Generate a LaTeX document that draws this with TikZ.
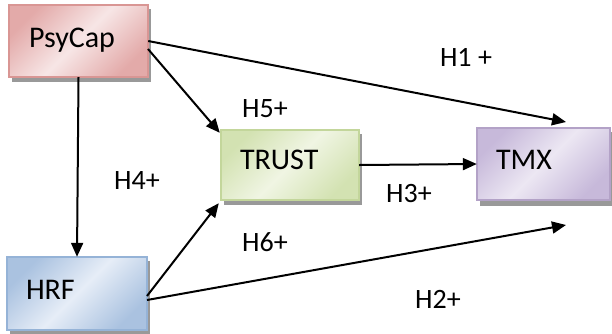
\documentclass[tikz,border=0pt]{standalone}
\usepackage{fontspec}
\setmainfont{Carlito}
\usetikzlibrary{arrows.meta,calc}
\definecolor{psyB}{HTML}{D99694}\definecolor{psyD}{HTML}{E3AAA9}\definecolor{psyL}{HTML}{F7E6E6}
\definecolor{trB}{HTML}{C3D69B}\definecolor{trD}{HTML}{D3E2B2}\definecolor{trL}{HTML}{F0F5E3}
\definecolor{tmB}{HTML}{B3A2C7}\definecolor{tmD}{HTML}{C7B9DA}\definecolor{tmL}{HTML}{ECE7F3}
\definecolor{hrB}{HTML}{95B3D7}\definecolor{hrD}{HTML}{AAC2E0}\definecolor{hrL}{HTML}{E6EDF7}
\definecolor{shd}{HTML}{999999}
\tikzset{
  box/.style={draw=#1B, line width=1.5pt, left color=#1D, right color=#1D, middle color=#1L,
    shading angle=45, inner sep=0pt, text=black},
  lbl/.style={font=\fontsize{28}{32}\selectfont, inner sep=0pt, anchor=center},
  btxt/.style={font=\fontsize{30}{34}\selectfont, inner sep=0pt, anchor=west},
  arr/.style={line width=2pt, -{Triangle[length=14pt,width=12pt]}}
}
\begin{document}
\begin{tikzpicture}[x=1pt,y=-1pt]
\useasboundingbox (0,0) rectangle (612,333);
% shadows
\fill[shd] (12,9) rectangle (151,82);
\fill[shd] (224,134) rectangle (362,205);
\fill[shd] (480,132) rectangle (615,206);
\fill[shd] (10,261) rectangle (150,335);
% boxes
\path[box=psy] (9,5) rectangle (148,77);
\path[box=tr] (221,130) rectangle (359,200);
\path[box=tm] (477,128) rectangle (610,200);
\path[box=hr] (7,257) rectangle (147,330);
\node[minimum width=139pt, minimum height=72pt, inner sep=0pt] (psy) at (78.5,41) {};
\node[minimum width=138pt, minimum height=70pt, inner sep=0pt] (trust) at (290,165) {};
\node[minimum width=133pt, minimum height=72pt, inner sep=0pt] (tmx) at (543.5,164) {};
\node[minimum width=140pt, minimum height=73pt, inner sep=0pt] (hrf) at (77,293.5) {};
\node[btxt] (tpsy) at ($(psy.west)+(20,-1)$) {PsyCap};
\node[btxt] (ttrust) at ($(trust.west)+(19,-5)$) {TRUST};
\node[btxt] (ttmx) at ($(tmx.west)+(19,-4)$) {TMX};
\node[btxt] (thrf) at ($(hrf.west)+(19,-4)$) {HRF};
% free ends
\coordinate (e1) at (566,122);
\coordinate (e2) at (566,225);
\coordinate (s5) at (148,49);
\coordinate (s6) at (147,296);
\coordinate (s2) at (147,300);
% connectors
\draw[arr] (psy.south) -- (hrf.north);
\draw[arr] (psy.east) -- (e1);
\draw[arr] (s5) -- ($(trust.north west)+(-1,3)$);
\draw[arr] (s6) -- ($(trust.south west)+(-2,3)$);
\draw[arr] (s2) -- (e2);
\draw[arr] (trust.east) -- (tmx.west);
% labels
\node[lbl] (l1) at (466,57) {H1 +};
\node[lbl] (l5) at (265,109) {H5+};
\node[lbl] (l4) at (137,181) {H4+};
\node[lbl] (l3) at (409,194) {H3+};
\node[lbl] (l6) at (265,242) {H6+};
\node[lbl] (l2) at (438,299) {H2+};
\end{tikzpicture}
\end{document}
